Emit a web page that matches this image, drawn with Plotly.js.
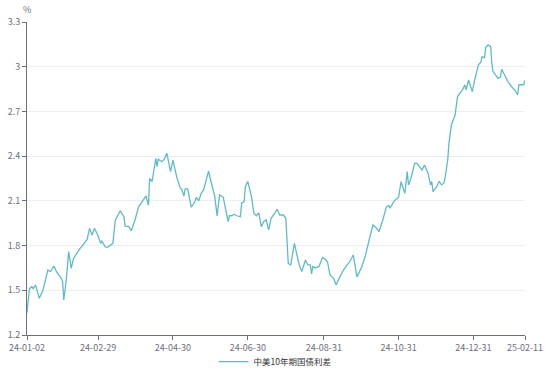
<!DOCTYPE html>
<html>
<head>
<meta charset="utf-8">
<script src="https://cdn.plot.ly/plotly-3.0.1.min.js"></script>
<style>html,body{margin:0;padding:0;background:#fff;}#chart{width:550px;height:383px;}</style>
</head>
<body>
<div id="chart"></div>
<script>
const seriesName = "中美10年期国债利差";
const dates = [
"2024-01-02","2024-01-04","2024-01-06","2024-01-07","2024-01-09","2024-01-12","2024-01-15","2024-01-19","2024-01-21","2024-01-24",
"2024-01-26","2024-01-30","2024-01-31","2024-02-01","2024-02-03","2024-02-05","2024-02-07","2024-02-09","2024-02-14","2024-02-20",
"2024-02-22","2024-02-24","2024-02-26","2024-02-29","2024-03-02","2024-03-03","2024-03-06","2024-03-08","2024-03-12","2024-03-14",
"2024-03-18","2024-03-21","2024-03-22","2024-03-25","2024-03-27","2024-03-30","2024-04-02","2024-04-06","2024-04-08","2024-04-10",
"2024-04-11","2024-04-13","2024-04-14","2024-04-16","2024-04-17","2024-04-18","2024-04-21","2024-04-23","2024-04-25","2024-04-28",
"2024-04-30","2024-05-03","2024-05-06","2024-05-07","2024-05-09","2024-05-10","2024-05-12","2024-05-15","2024-05-18","2024-05-19",
"2024-05-21","2024-05-23","2024-05-25","2024-05-27","2024-05-29","2024-05-31","2024-06-03","2024-06-05","2024-06-07","2024-06-10",
"2024-06-11","2024-06-14","2024-06-15","2024-06-17","2024-06-19","2024-06-21","2024-06-24","2024-06-25","2024-06-27","2024-06-28",
"2024-06-30","2024-07-03","2024-07-05","2024-07-07","2024-07-09","2024-07-11","2024-07-13","2024-07-15","2024-07-17","2024-07-19",
"2024-07-22","2024-07-24","2024-07-26","2024-07-29","2024-07-31","2024-08-02","2024-08-04","2024-08-06","2024-08-07","2024-08-10",
"2024-08-11","2024-08-13","2024-08-16","2024-08-18","2024-08-20","2024-08-21","2024-08-22","2024-08-24","2024-08-27","2024-08-30",
"2024-09-01","2024-09-03","2024-09-05","2024-09-08","2024-09-10","2024-09-13","2024-09-16","2024-09-19","2024-09-21","2024-09-24",
"2024-09-27","2024-10-01","2024-10-04","2024-10-07","2024-10-10","2024-10-13","2024-10-15","2024-10-18","2024-10-21","2024-10-23",
"2024-10-24","2024-10-27","2024-10-29","2024-10-31","2024-11-02","2024-11-04","2024-11-05","2024-11-07","2024-11-08","2024-11-10",
"2024-11-13","2024-11-15","2024-11-19","2024-11-21","2024-11-24","2024-11-26","2024-11-27","2024-11-28","2024-12-01","2024-12-03",
"2024-12-05","2024-12-07","2024-12-08","2024-12-10","2024-12-11","2024-12-13","2024-12-15","2024-12-16","2024-12-18","2024-12-20",
"2024-12-22","2024-12-24","2024-12-25","2024-12-27","2024-12-30","2025-01-01","2025-01-03","2025-01-04","2025-01-06","2025-01-07",
"2025-01-09","2025-01-10","2025-01-12","2025-01-14","2025-01-15","2025-01-16","2025-01-18","2025-01-20","2025-01-22","2025-01-23",
"2025-01-26","2025-01-28","2025-01-31","2025-02-03","2025-02-05","2025-02-06","2025-02-08","2025-02-10","2025-02-11"
];
const spread = [
1.35,1.51,1.525,1.51,1.535,1.446,1.50,1.636,1.625,1.663,
1.625,1.58,1.56,1.435,1.57,1.76,1.648,1.715,1.778,1.84,
1.916,1.87,1.916,1.864,1.815,1.83,1.79,1.79,1.815,1.97,
2.034,1.994,1.93,1.927,1.90,1.97,2.06,2.106,2.133,2.07,
2.25,2.23,2.285,2.386,2.33,2.38,2.363,2.38,2.42,2.296,
2.374,2.262,2.185,2.18,2.133,2.18,2.18,2.057,2.095,2.124,
2.10,2.15,2.173,2.23,2.30,2.23,2.133,1.999,2.14,2.124,
2.08,1.96,2.0,2.0,2.01,2.0,1.994,2.084,2.095,2.195,
2.23,2.128,2.017,2.0,2.02,1.927,1.96,1.972,1.905,1.983,
2.017,2.044,2.005,2.005,1.983,1.68,1.67,1.77,1.815,1.703,
1.67,1.625,1.703,1.67,1.67,1.61,1.66,1.65,1.66,1.72,
1.71,1.69,1.603,1.58,1.536,1.59,1.636,1.67,1.69,1.737,
1.59,1.658,1.737,1.84,1.938,1.916,1.893,1.97,2.06,2.07,
2.05,2.095,2.11,2.128,2.23,2.185,2.15,2.296,2.207,2.25,
2.352,2.352,2.307,2.34,2.285,2.207,2.23,2.162,2.195,2.23,
2.207,2.22,2.262,2.374,2.487,2.61,2.648,2.676,2.80,2.822,
2.844,2.878,2.844,2.911,2.833,2.911,2.99,3.012,3.03,3.068,
3.06,3.13,3.146,3.135,3.02,2.966,2.945,2.922,2.93,2.983,
2.934,2.90,2.867,2.84,2.81,2.878,2.88,2.878,2.91
];
const tickDates = ["2024-01-02","2024-02-29","2024-04-30","2024-06-30","2024-08-31","2024-10-31","2024-12-31","2025-02-11"];
const tickLabels = ["24-01-02","24-02-29","24-04-30","24-06-30","24-08-31","24-10-31","24-12-31","25-02-11"];
const yTicks = [1.2,1.5,1.8,2.1,2.4,2.7,3,3.3];
const yUnit = "%";

const fontFam = '"Noto Sans CJK SC", "Noto Sans", sans-serif';
const axisColor = '#6e7079';

Plotly.newPlot('chart', [{
  x: dates, y: spread, type: 'scatter', mode: 'lines', name: seriesName,
  line: {color: '#5fbcc6', width: 1.3}
}], {
  width: 550, height: 383,
  margin: {l: 27, r: 25, t: 22, b: 48, autoexpand: false},
  paper_bgcolor: '#fff', plot_bgcolor: '#fff',
  font: {family: fontFam, size: 9, color: axisColor},
  showlegend: true,
  legend: {orientation: 'h', xref: 'container', yref: 'container', x: 0.5, xanchor: 'center',
           y: 0.056, yanchor: 'middle', itemwidth: 30, tracegroupgap: 0,
           font: {family: fontFam, size: 8.5, color: '#333'}, bgcolor: 'rgba(0,0,0,0)'},
  xaxis: {
    type: 'date', range: ['2024-01-02', '2025-02-11'], automargin: false,
    tickmode: 'array', tickvals: tickDates, ticktext: tickLabels,
    showgrid: false, zeroline: false,
    showline: true, linecolor: axisColor, linewidth: 1,
    ticks: 'outside', ticklen: 4, tickcolor: axisColor,
    tickfont: {family: fontFam, size: 9, color: axisColor}
  },
  yaxis: {
    range: [1.2, 3.3], tickmode: 'array', tickvals: yTicks, automargin: false,
    ticktext: yTicks.map(v => String(v)),
    showgrid: true, gridcolor: '#eceef3', gridwidth: 1, zeroline: false,
    showline: true, linecolor: axisColor, linewidth: 1,
    ticks: 'outside', ticklen: 4, tickcolor: axisColor,
    tickfont: {family: fontFam, size: 9, color: axisColor}
  },
  annotations: [{
    text: yUnit, xref: 'paper', yref: 'paper', x: 0, y: 1, xanchor: 'center', yanchor: 'bottom',
    yshift: 4, showarrow: false, font: {family: fontFam, size: 9, color: axisColor}
  }]
}, {displayModeBar: false, staticPlot: true});
</script>
</body>
</html>
